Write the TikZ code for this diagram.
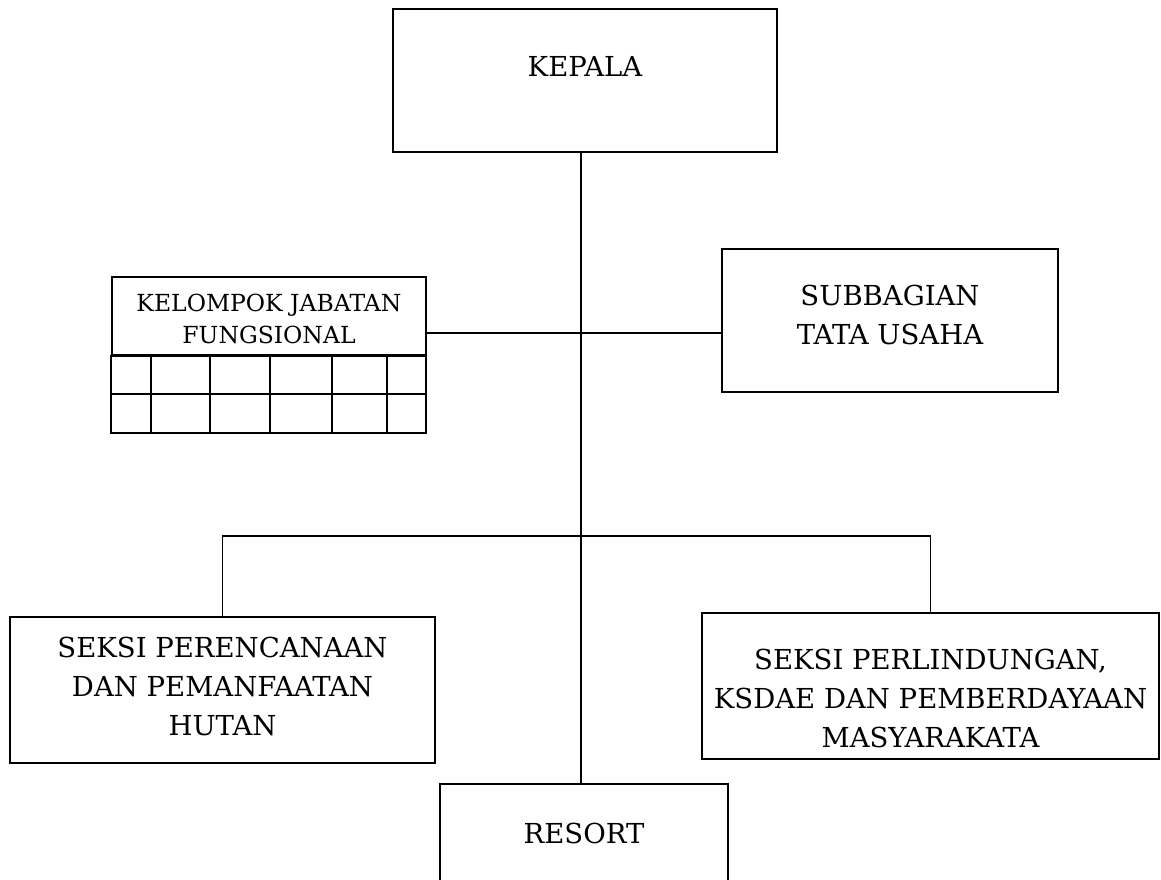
\documentclass[tikz,border=0pt]{standalone}
\usepackage{fontspec}
\setmainfont{DejaVu Serif}
\usepackage{tikz}
\tikzset{
	unitstyle/.style={rectangle,draw=black,fill=white,line width=2.2pt,inner sep=0pt,align=center},
	smalltext/.style={font=\fontsize{23.5}{32}\selectfont},
	bigtext/.style={font=\fontsize{27.5}{39}\selectfont},
	linkstyle/.style={line width=1.8pt}
}
\begin{document}
\begin{tikzpicture}[x=1pt,y=-1pt]
	\useasboundingbox (0,0) rectangle (1161,880);
	\node[unitstyle,bigtext,minimum width=384pt,minimum height=143pt,text height=20pt,text depth=27pt] (kepala) at (585,80.5) {KEPALA};
	\node[unitstyle,smalltext,minimum width=314pt,minimum height=78pt,text height=59pt,text depth=5pt] (kelompok) at (269,316) {KELOMPOK JABATAN\\FUNGSIONAL};
	\node[unitstyle,bigtext,minimum width=336pt,minimum height=143pt,text height=52pt,text depth=5pt] (subbag) at (890,320.5) {SUBBAGIAN\\TATA USAHA};
	\node[unitstyle,bigtext,minimum width=425pt,minimum height=146pt,text height=95pt,text depth=5pt] (perencanaan) at (222.5,690) {SEKSI PERENCANAAN\\DAN PEMANFAATAN\\HUTAN};
	\node[unitstyle,bigtext,minimum width=457pt,minimum height=146pt,text height=127pt,text depth=5pt] (perlindungan) at (930.5,686) {SEKSI PERLINDUNGAN,\\KSDAE DAN PEMBERDAYAAN\\MASYARAKATA};
	\node[unitstyle,bigtext,minimum width=288pt,minimum height=140pt,text height=20pt,text depth=42pt] (resort) at (584,854) {RESORT};
	% table below the functional group
	\draw[line width=2.2pt] (kelompok.south west) rectangle (426,433);
	\draw[line width=2.2pt] (112,394) -- (426,394);
	\foreach \gx in {151,210,270,332,387}
		\draw[line width=2.2pt] (\gx,355) -- (\gx,433);
	\coordinate (staff) at (581,333);
	\coordinate (bus) at (581,536);
	\draw[linkstyle] (kepala.south -| bus) -- (resort.north -| bus);
	\draw[linkstyle] (staff -| kelompok.east) -- (staff -| subbag.west);
	\draw[linkstyle] (perencanaan.north) |- (bus -| perlindungan.north) -- (perlindungan.north);
\end{tikzpicture}
\end{document}
